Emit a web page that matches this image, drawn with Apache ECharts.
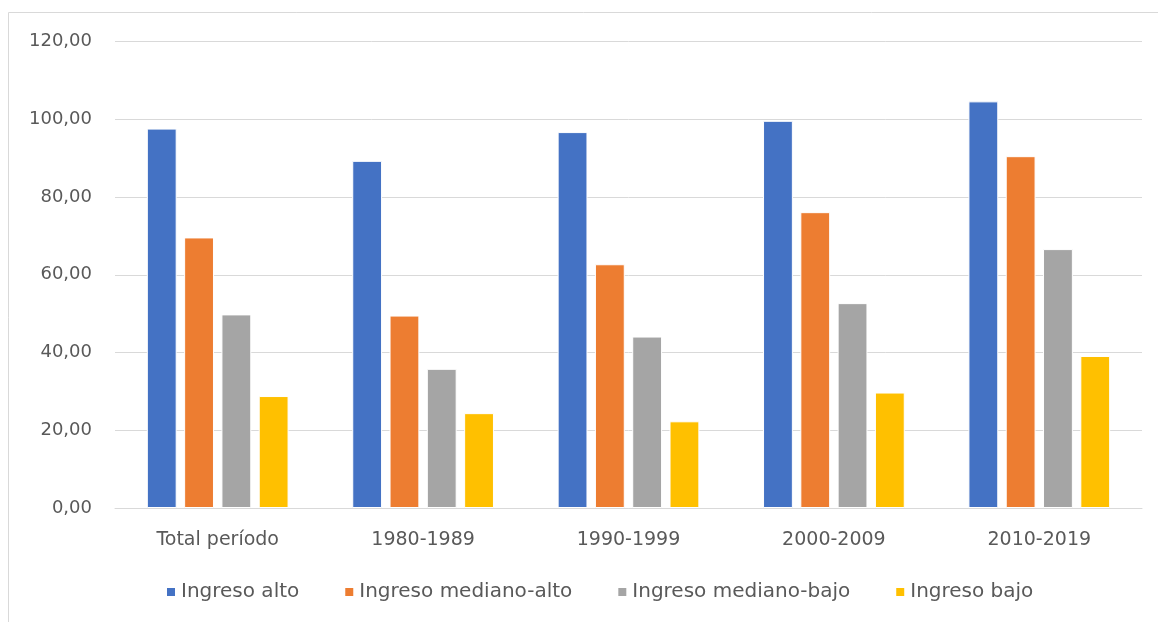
<!DOCTYPE html>
<html>
<head>
<meta charset="utf-8">
<script src="https://cdn.jsdelivr.net/npm/echarts@6/dist/echarts.min.js"></script>
<style>
  html,body{margin:0;padding:0;background:#fff;overflow:hidden;}
  #chart{width:1158px;height:622px;}
</style>
</head>
<body>
<div id="chart"></div>
<script>
var categories = ['Total período', '1980-1989', '1990-1999', '2000-2009', '2010-2019'];
var seriesNames = ['Ingreso alto', 'Ingreso mediano-alto', 'Ingreso mediano-bajo', 'Ingreso bajo'];
var ingresoAlto = [97.6, 89.3, 96.7, 99.6, 104.6];
var ingresoMedianoAlto = [69.6, 49.5, 62.7, 76.1, 90.5];
var ingresoMedianoBajo = [49.8, 35.8, 44.1, 52.7, 66.6];
var ingresoBajo = [28.8, 24.4, 22.3, 29.7, 39.1];
var colors = ['#4472c4', '#ed7d31', '#a5a5a5', '#ffc000'];

var chart = echarts.init(document.getElementById('chart'));
var textColor = '#595959';
var font = '"DejaVu Sans", sans-serif';

function makeSeries(name, data, i) {
  return {
    name: name,
    type: 'bar',
    data: data,
    barGap: '25%',
    barCategoryGap: '31%',
    itemStyle: {color: colors[i], borderColor: '#ffffff', borderWidth: 1},
    emphasis: {disabled: true}
  };
}

var option = {
  animation: false,
  color: colors,
  textStyle: {fontFamily: font},
  graphic: [{
    type: 'rect',
    shape: {x: 8.5, y: 12.5, width: 1300, height: 800},
    style: {fill: 'none', stroke: '#d9d9d9', lineWidth: 1},
    silent: true
  }],
  grid: {left: 115, right: 16, top: 41.5, bottom: 114},
  legend: {
    bottom: 15,
    left: 160,
    itemWidth: 10,
    itemHeight: 10,
    itemGap: 44,
    icon: 'rect',
    textStyle: {color: textColor, fontSize: 20, fontFamily: font},
    data: seriesNames
  },
  xAxis: {
    type: 'category',
    data: categories,
    axisLine: {lineStyle: {color: '#d9d9d9', width: 1}},
    axisTick: {show: false},
    axisLabel: {color: textColor, fontSize: 19, margin: 23, fontFamily: font}
  },
  yAxis: {
    type: 'value',
    min: 0,
    max: 120,
    interval: 20,
    axisLine: {show: false},
    axisTick: {show: false},
    splitLine: {lineStyle: {color: '#d9d9d9', width: 1}},
    axisLabel: {
      color: textColor, fontSize: 18, margin: 23, fontFamily: font,
      formatter: function (v) { return v.toFixed(2).replace('.', ','); }
    }
  },
  series: [
    makeSeries(seriesNames[0], ingresoAlto, 0),
    makeSeries(seriesNames[1], ingresoMedianoAlto, 1),
    makeSeries(seriesNames[2], ingresoMedianoBajo, 2),
    makeSeries(seriesNames[3], ingresoBajo, 3)
  ]
};
chart.setOption(option);
</script>
</body>
</html>
